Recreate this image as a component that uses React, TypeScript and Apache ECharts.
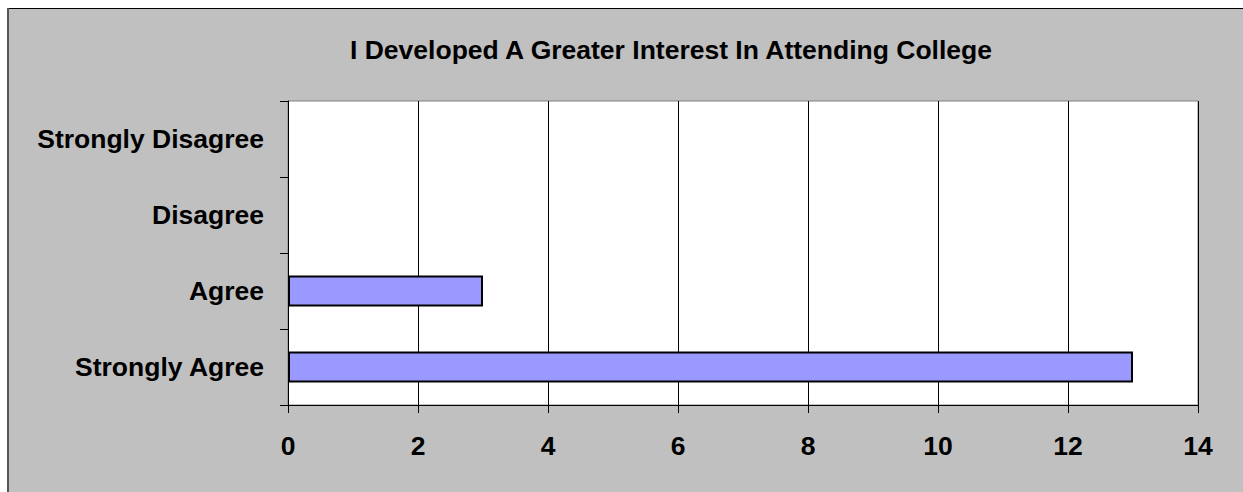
import React, { useEffect, useRef } from "react";
import * as echarts from "echarts";

const title = "I Developed A Greater Interest In Attending College";
const categories = ["Strongly Agree", "Agree", "Disagree", "Strongly Disagree"];
const values = [13, 3, 0, 0];
const xMin = 0;
const xMax = 14;
const xInterval = 2;

const FONT = "'Liberation Sans', Arial, sans-serif";
const FS = 26.5;

export default function App() {
  const ref = useRef<HTMLDivElement>(null);
  useEffect(() => {
    if (!ref.current) return;
    const chart = echarts.init(ref.current, null, { renderer: "svg" });
    chart.setOption({
      animation: false,
      backgroundColor: "#ffffff",
      graphic: [
        {
          type: "rect",
          z: -10,
          silent: true,
          shape: { x: 7, y: 8, width: 1300, height: 600 },
          style: { fill: "#C0C0C0" },
        },
        {
          type: "line",
          z: -9,
          silent: true,
          shape: { x1: 7, y1: 8.5, x2: 1243, y2: 8.5 },
          style: { stroke: "#000000", lineWidth: 1 },
        },
        {
          type: "line",
          z: -9,
          silent: true,
          shape: { x1: 8, y1: 8, x2: 8, y2: 492 },
          style: { stroke: "#555555", lineWidth: 2 },
        },
      ],
      title: {
        text: title,
        left: 345,
        top: 31,
        textStyle: { fontFamily: FONT, fontSize: FS, fontWeight: "bold", color: "#000" },
      },
      grid: {
        left: 288,
        right: 45,
        top: 101,
        bottom: 87,
        show: true,
        backgroundColor: "#ffffff",
        borderColor: "#808080",
        borderWidth: 1,
        containLabel: false,
      },
      xAxis: {
        type: "value",
        min: xMin,
        max: xMax,
        interval: xInterval,
        axisLine: { show: true, lineStyle: { color: "#000", width: 1 } },
        axisTick: { show: true, inside: false, length: 8, lineStyle: { color: "#000" } },
        splitLine: { show: true, lineStyle: { color: "#000", width: 1 } },
        axisLabel: {
          margin: 27,
          fontFamily: FONT,
          fontSize: FS,
          fontWeight: "bold",
          color: "#000",
        },
      },
      yAxis: {
        type: "category",
        data: categories,
        axisLine: { show: true, lineStyle: { color: "#000", width: 1 } },
        axisTick: { show: true, inside: false, length: 8, lineStyle: { color: "#000" } },
        splitLine: { show: false },
        axisLabel: {
          margin: 24,
          fontFamily: FONT,
          fontSize: FS,
          fontWeight: "bold",
          color: "#000",
        },
      },
      series: [
        {
          type: "bar",
          data: values.map((v) =>
            v === 0 ? { value: v, itemStyle: { borderWidth: 0 } } : v
          ),
          barWidth: 31,
          itemStyle: { color: "#9999FF", borderColor: "#000", borderWidth: 2 },
        },
      ],
    });
    return () => chart.dispose();
  }, []);
  return (
    <div
      ref={ref}
      style={{ position: "absolute", left: 0, top: 0, width: 1243, height: 492 }}
    />
  );
}
